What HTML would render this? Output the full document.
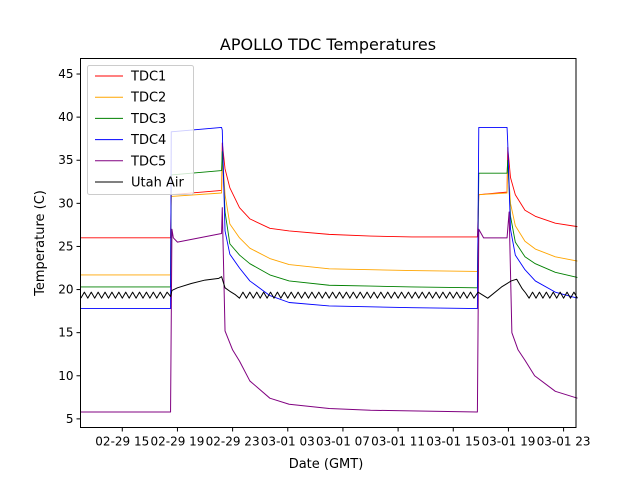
<!DOCTYPE html>
<html><head><meta charset="utf-8"><style>
body{margin:0;background:#fff;font-family:"Liberation Sans","DejaVu Sans",sans-serif;}
svg text{font-family:"DejaVu Sans","Liberation Sans",sans-serif;}
</style></head><body>
<svg id="chart" width="640" height="480" xmlns="http://www.w3.org/2000/svg">
<rect width="640" height="480" fill="#fff"/>
<text x="328" y="50" font-size="16" text-anchor="middle">APOLLO TDC Temperatures</text>
<g id="plot"></g>
<rect x="80.5" y="58.5" width="495.5" height="369" fill="none" stroke="#000" stroke-width="1"/>
<g id="axes"></g>
<text x="326" y="468" font-size="13" text-anchor="middle">Date (GMT)</text>
<text transform="translate(44,243) rotate(-90)" font-size="13" text-anchor="middle">Temperature (C)</text>
<g id="legend"></g>
</svg>
<script>
// hours relative to 02-29 15:00 GMT
const xTickHours=[0,4,8,12,16,20,24,28,32];
const xTickLabels=["02-29 15","02-29 19","02-29 23","03-01 03","03-01 07","03-01 11","03-01 15","03-01 19","03-01 23"];
const yTicks=[5,10,15,20,25,30,35,40,45];
const seriesNames=["TDC1","TDC2","TDC3","TDC4","TDC5","Utah Air"];
const seriesColors=["red","orange","green","blue","purple","black"];
const t1=[-3,3.5,3.55,7.2,7.25,7.45,7.8,8.5,9.25,10.7,12.1,15,18,21,25.75,25.85,27.9,27.95,28.15,28.5,29.2,29.95,31.4,33];
const v1=[26,26,31,31.5,37,34,31.8,29.5,28.2,27.1,26.8,26.4,26.2,26.1,26.1,31,31.3,36.5,33,31,29.2,28.5,27.7,27.3];
const v2=[21.7,21.7,30.8,31.2,36,31,27.6,26,24.8,23.6,22.9,22.4,22.3,22.2,22.1,31,31.2,35,30,27.4,25.6,24.7,23.8,23.3];
const v3=[20.3,20.3,33.3,33.8,36,29,25.3,24,23,21.7,21,20.5,20.4,20.3,20.2,33.5,33.5,35,28.5,25.5,23.8,23,22,21.4];
const v4=[17.8,17.8,38.3,38.8,38.5,26.8,24.1,22.5,21,19.3,18.5,18.1,18,17.9,17.8,38.8,38.8,37,27,24,22.3,21,19.7,19];
const t5=[-3,3.5,3.6,3.7,4,7.2,7.25,7.45,8,8.5,9.25,10.7,12.1,15,18,25.75,25.85,26.2,27.9,28.05,28.25,28.7,29.2,29.9,31.4,33];
const v5=[5.8,5.8,27,26,25.5,26.5,29.5,15.2,13,11.7,9.4,7.4,6.7,6.2,6,5.8,27,26,26,29,15,13,11.8,10,8.2,7.4];
const airT=[-3,-2.75,-2.5,-2.25,-2,-1.75,-1.5,-1.25,-1,-0.75,-0.5,-0.25,0,0.25,0.5,0.75,1,1.25,1.5,1.75,2,2.25,2.5,2.75,3,3.25,
3.5,3.6,4,5,6,7,7.2,7.45,7.8,8.2,
8.5,8.75,9,9.25,9.5,9.75,10,10.25,10.5,10.75,11,11.25,11.5,11.75,12,12.25,12.5,12.75,13,13.25,13.5,13.75,14,14.25,14.5,14.75,15,15.25,15.5,15.75,16,16.25,16.5,16.75,17,17.25,17.5,17.75,18,18.25,18.5,18.75,19,19.25,19.5,19.75,20,20.25,20.5,20.75,21,21.25,21.5,21.75,22,22.25,22.5,22.75,23,23.25,23.5,23.75,24,24.25,24.5,24.75,25,25.25,25.5,
25.8,26.5,27.5,27.9,28.2,28.6,
29,29.25,29.5,29.75,30,30.25,30.5,30.75,31,31.25,31.5,31.75,32,32.25,32.5,32.75,33];
const airV=[19.0,19.7,19.0,19.7,19.0,19.7,19.0,19.7,19.0,19.7,19.0,19.7,19.0,19.7,19.0,19.7,19.0,19.7,19.0,19.7,19.0,19.7,19.0,19.7,19.0,19.7,
19.2,19.9,20.2,20.7,21.1,21.3,21.5,20.2,19.8,19.4,
19.0,19.7,19.0,19.7,19.0,19.7,19.0,19.7,19.0,19.7,19.0,19.7,19.0,19.7,19.0,19.7,19.0,19.7,19.0,19.7,19.0,19.7,19.0,19.7,19.0,19.7,19.0,19.7,19.0,19.7,19.0,19.7,19.0,19.7,19.0,19.7,19.0,19.7,19.0,19.7,19.0,19.7,19.0,19.7,19.0,19.7,19.0,19.7,19.0,19.7,19.0,19.7,19.0,19.7,19.0,19.7,19.0,19.7,19.0,19.7,19.0,19.7,19.0,19.7,19.0,19.7,19.0,19.7,19.0,19.7,19.0,
20.3,20.7,21.0,21.2,20.1,19.6,
19.0,19.7,19.0,19.7,19.0,19.7,19.0,19.7,19.0,19.7,19.0,19.7,19.0,19.7,19.0,19.7,19.0];

const NS="http://www.w3.org/2000/svg";
const xLeft=80.5,xRight=576,yTop=58.5,yBottom=427.5;
const tMin=-3.03,tMax=32.9,vMin=4,vMax=46.8;
function xs(t){return xLeft+(t-tMin)/(tMax-tMin)*(xRight-xLeft);}
function ys(v){return yBottom-(v-vMin)/(vMax-vMin)*(yBottom-yTop);}
function mk(tag,attrs,parent){const e=document.createElementNS(NS,tag);for(const k in attrs)e.setAttribute(k,attrs[k]);parent.appendChild(e);return e;}

const axes=document.getElementById('axes');
xTickHours.forEach((h,i)=>{
  const x=xs(h);
  const tk=mk('line',{x1:x,x2:x,y1:yBottom,y2:yBottom+4,stroke:'#000'},axes);
  
  
  const tx=mk('text',{x:x,y:yBottom+18,'font-size':12,'text-anchor':'middle'},axes);
  tx.textContent=xTickLabels[i];
  
  
});
yTicks.forEach(v=>{
  const y=ys(v);
  const tk=mk('line',{x1:xLeft-4,x2:xLeft,y1:y,y2:y,stroke:'#000'},axes);
  
  
  const tx=mk('text',{x:xLeft-7,y:y+4,'font-size':12,'text-anchor':'end'},axes);
  tx.textContent=String(v);
  
  
});

const plot=document.getElementById('plot');
const seriesT=[t1,t1,t1,t1,t5,airT];
const seriesV=[v1,v2,v3,v4,v5,airV];
[0,1,2,3,4,5].forEach(i=>{
  const pts=seriesT[i].map((t,j)=>xs(t).toFixed(2)+','+ys(seriesV[i][j]).toFixed(2)).join(' ');
  const pl=mk('polyline',{points:pts,fill:'none',stroke:seriesColors[i],'stroke-width':i>=4?1:0.9,'stroke-linejoin':'round'},plot);
  
  
});

const lg=document.getElementById('legend');
const box=mk('rect',{x:87.5,y:65.5,width:106,height:129,fill:'#fff','fill-opacity':0.8,stroke:'#ccc',rx:2},lg);


seriesNames.forEach((n,i)=>{
  const y=76+i*21.2;
  const ln=mk('line',{x1:95,x2:123,y1:y,y2:y,stroke:seriesColors[i],'stroke-width':1},lg);
  
  
  const tx=mk('text',{x:131,y:y+4.5,'font-size':13},lg);
  tx.textContent=n;
  
  
});
</script>
</body></html>
